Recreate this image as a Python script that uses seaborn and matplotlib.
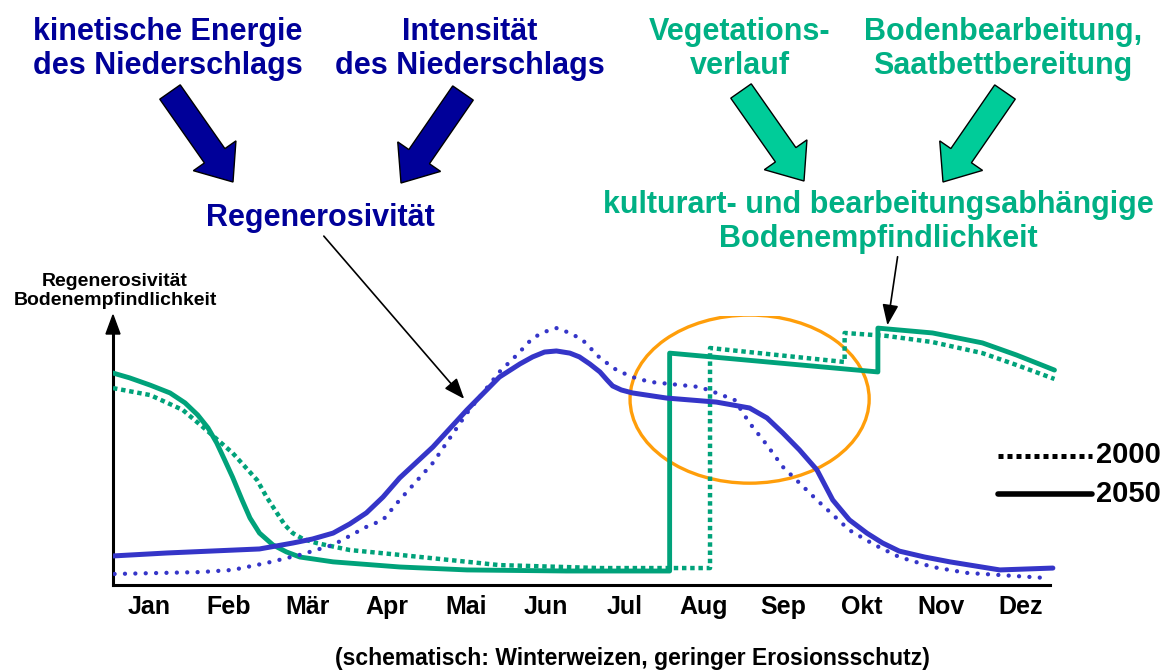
import numpy as np
import seaborn as sns
import matplotlib.pyplot as plt
from matplotlib.patches import Ellipse, FancyArrow, Polygon


# Monate (Achsenbeschriftung)
months = ["Jan", "Feb", "Mär", "Apr", "Mai", "Jun",
          "Jul", "Aug", "Sep", "Okt", "Nov", "Dez"]

# Bodenempfindlichkeit 2050 (grün, durchgezogen)  x in Monaten, y in % der Achse
soil_2050_x = [0.04, 0.25, 0.51, 0.76, 0.95, 1.11, 1.24, 1.35, 1.45, 1.55, 1.67, 1.77,
               1.89, 2.06, 2.23, 2.40, 2.82, 3.66, 4.51, 5.77, 7.07, 7.07, 9.70, 9.70,
               10.39, 11.02, 11.45, 11.93]
soil_2050_y = [78.8, 77.0, 74.3, 71.4, 67.7, 63.2, 58.4, 52.8, 46.5, 40.1, 31.6, 24.9,
               19.3, 14.9, 12.3, 10.4, 8.6, 6.7, 5.6, 5.2, 5.2, 86.2, 79.2, 95.5,
               93.7, 90.0, 85.5, 79.9]

# Bodenempfindlichkeit 2000 (grün, gepunktet)
soil_2000_x = [0.04, 0.51, 0.92, 1.22, 1.55, 1.86, 1.98, 2.11, 2.21, 2.31, 2.44, 2.61,
               3.03, 3.66, 4.92, 6.19, 7.58, 7.58, 9.28, 9.28, 9.81, 10.39, 11.02,
               11.45, 11.93]
soil_2000_y = [73.2, 70.6, 65.1, 57.6, 49.1, 39.0, 32.7, 26.8, 22.3, 19.3, 17.1, 15.6,
               13.0, 11.2, 7.4, 6.3, 6.3, 88.1, 82.9, 93.7, 92.6, 90.3, 86.2,
               81.8, 76.6]

# Regenerosivität 2050 (blau, durchgezogen)
rain_2050_x = [0.04, 0.72, 1.89, 2.31, 2.56, 2.82, 3.03, 3.24, 3.45, 3.66, 4.08, 4.51,
               4.92, 5.18, 5.34, 5.49, 5.64, 5.81, 5.93, 6.06, 6.19, 6.28, 6.35, 6.46,
               6.60, 7.03, 7.66, 8.08, 8.30, 8.50, 8.71, 8.93, 9.03, 9.13, 9.34, 9.56,
               9.76, 9.97, 10.29, 10.61, 11.24, 11.91]
rain_2050_y = [10.8, 11.9, 13.4, 15.6, 17.1, 19.3, 22.7, 26.8, 32.7, 39.8, 51.3, 65.1,
               77.3, 82.2, 84.8, 86.6, 87.0, 86.2, 84.8, 82.2, 79.2, 76.2, 74.0, 72.5,
               71.4, 69.5, 68.0, 65.8, 62.1, 56.5, 50.2, 42.8, 37.2, 31.6, 24.2, 19.3,
               15.6, 12.6, 10.4, 8.6, 5.6, 6.3]

# Regenerosivität 2000 (blau, gepunktet)
rain_2000_x = [0.06, 1.14, 1.55, 1.98, 2.40, 2.82, 3.24, 3.45, 3.66, 4.08, 4.51, 4.92,
               5.14, 5.34, 5.49, 5.64, 5.81, 5.97, 6.19, 6.40, 6.60, 6.82, 7.45, 7.66,
               7.89, 8.08, 8.30, 8.50, 8.71, 8.93, 9.34, 9.66, 9.97, 10.39, 10.82, 11.83]
rain_2000_y = [4.1, 4.8, 5.6, 8.2, 11.2, 14.9, 21.6, 24.2, 31.6, 45.4, 63.9, 79.2,
               85.5, 91.8, 94.1, 95.5, 93.7, 91.1, 84.4, 79.9, 77.3, 75.5, 73.6, 71.4,
               68.8, 60.2, 52.0, 43.9, 37.9, 31.6, 20.4, 14.9, 10.4, 6.7, 4.5, 2.6]

BLUE = "#3535c8"
GREEN = "#00a27a"
NAVY = "#000099"
TXT_GREEN = "#00b084"
ARROW_GREEN = "#00cc99"
ORANGE = "#ff9e0a"

sns.set_theme(style="white")
plt.rcParams["font.family"] = ["Liberation Sans", "DejaVu Sans"]
plt.rcParams["font.weight"] = "bold"
plt.rcParams["text.color"] = "black"

W, H = 1170, 671
fig = plt.figure(figsize=(W / 100, H / 100), dpi=100)

# Diagramm
ax = fig.add_axes([113 / W, 86 / H, (1060 - 113) / W, 269 / H])
ax.set_xlim(0.04, 12.0)
ax.set_ylim(0, 100)

ax.add_patch(Ellipse((8.08, 69.1), 3.02, 62.5, fill=False, ec=ORANGE, lw=2.4, zorder=1))

sns.lineplot(x=soil_2000_x, y=soil_2000_y, ax=ax, sort=False, estimator=None,
             color=GREEN, linewidth=3.2, linestyle=(0, (1.0, 0.85)),
             dash_capstyle="butt", zorder=3)
sns.lineplot(x=soil_2050_x, y=soil_2050_y, ax=ax, sort=False, estimator=None,
             color=GREEN, linewidth=3.5, zorder=3)
sns.lineplot(x=rain_2000_x, y=rain_2000_y, ax=ax, sort=False, estimator=None,
             color=BLUE, linewidth=3.1, linestyle=(0, (0.01, 2.4)),
             dash_capstyle="round", zorder=4)
sns.lineplot(x=rain_2050_x, y=rain_2050_y, ax=ax, sort=False, estimator=None,
             color=BLUE, linewidth=3.6, zorder=4)

for s in ["top", "right"]:
    ax.spines[s].set_visible(False)
ax.spines["left"].set_color("black")
ax.spines["bottom"].set_color("black")
ax.spines["left"].set_linewidth(2.2)
ax.spines["bottom"].set_linewidth(2.2)
ax.spines["bottom"].set_bounds(0.04, 11.87)
ax.spines["left"].set_bounds(0, 94)
ax.set_yticks([])
ax.set_xticks(np.arange(12) + 0.5, months)
ax.tick_params(axis="x", length=0, pad=7, labelsize=18, labelcolor="black")
for lbl in ax.get_xticklabels():
    lbl.set_fontweight("bold")
ax.set_xlabel("")
ax.set_ylabel("")

# Overlay in Pixelkoordinaten für Texte und Pfeile
ov = fig.add_axes([0, 0, 1, 1], facecolor="none")
ov.set_xlim(0, W)
ov.set_ylim(H, 0)
ov.axis("off")

# Pfeilspitze der y-Achse
ov.add_patch(Polygon([(106, 334), (120, 334), (113, 315)], closed=True, color="black"))

big = dict(ha="center", va="center", fontsize=22, fontweight="bold", linespacing=1.15)
ov.text(168, 49, "kinetische Energie\ndes Niederschlags", color=NAVY, **big)
ov.text(470, 49, "Intensität\ndes Niederschlags", color=NAVY, **big)
ov.text(740, 49, "Vegetations-\nverlauf", color=TXT_GREEN, **big)
ov.text(1003, 49, "Bodenbearbeitung,\nSaatbettbereitung", color=TXT_GREEN, **big)
ov.text(320, 218, "Regenerosivität", color=NAVY, **big)
ov.text(878, 222, "kulturart- und bearbeitungsabhängige\nBodenempfindlichkeit",
        color=TXT_GREEN, **big)

ov.text(115, 291, "Regenerosivität\nBodenempfindlichkeit", ha="center", va="center",
        fontsize=14, fontweight="bold", color="black", linespacing=1.15)
ov.text(632, 658, "(schematisch: Winterweizen, geringer Erosionsschutz)", ha="center",
        va="center", fontsize=16.5, fontweight="bold", color="black")

# dicke Blockpfeile
def block_arrow(x0, y0, x1, y1, fc):
    ov.add_patch(FancyArrow(x0, y0, x1 - x0, y1 - y0, width=25, head_width=52,
                            head_length=32, length_includes_head=True,
                            fc=fc, ec="black", lw=1.0, zorder=5))

block_arrow(170, 92, 233, 182, NAVY)
block_arrow(463, 93, 401, 183, NAVY)
block_arrow(741, 91, 804, 181, ARROW_GREEN)
block_arrow(1005, 92, 943, 182, ARROW_GREEN)

# dünne Hinweispfeile
ov.annotate("", xy=(466, 401), xytext=(322, 234),
            arrowprops=dict(arrowstyle="-|>,head_length=0.9,head_width=0.35",
                            color="black", lw=1.2, mutation_scale=14))
ov.annotate("", xy=(887, 328), xytext=(898, 254),
            arrowprops=dict(arrowstyle="-|>,head_length=0.9,head_width=0.35",
                            color="black", lw=1.2, mutation_scale=14))

# Legende
ov.plot([998, 1092], [456, 456], color="black", lw=3.6, linestyle=(0, (1.0, 0.8)))
ov.plot([998, 1092], [494, 494], color="black", lw=4.0)
ov.text(1096, 455, "2000", ha="left", va="center", fontsize=21, fontweight="bold",
        color="black")
ov.text(1096, 494, "2050", ha="left", va="center", fontsize=21, fontweight="bold",
        color="black")

fig.savefig("out.png", dpi=100)
